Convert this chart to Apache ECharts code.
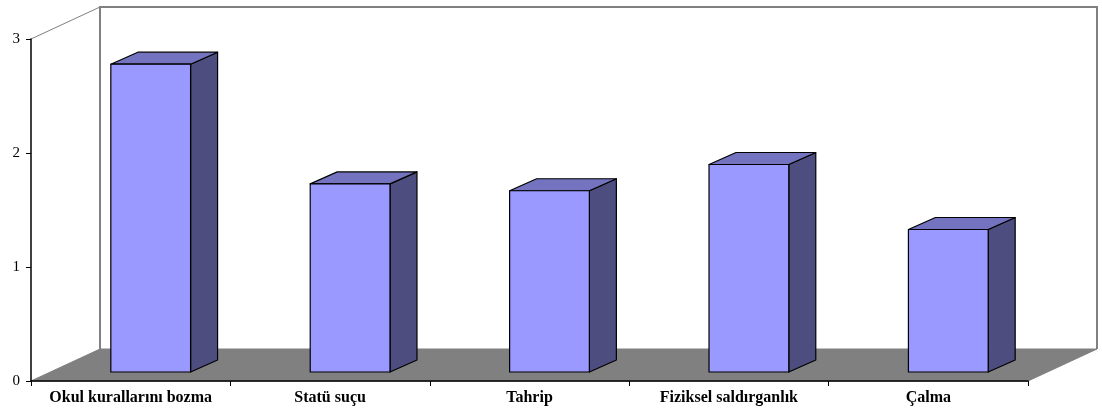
<!DOCTYPE html>
<html>
<head>
<meta charset="utf-8">
<script src="https://cdn.jsdelivr.net/npm/echarts@6/dist/echarts.min.js"></script>
<style>
html,body{margin:0;padding:0;background:#fff;}
#chart{width:1102px;height:409px;}
</style>
</head>
<body>
<div id="chart"></div>
<script>
const categories = ['Okul kurallarını bozma', 'Statü suçu', 'Tahrip', 'Fiziksel saldırganlık', 'Çalma'];
const values = [2.70, 1.65, 1.59, 1.82, 1.25];
const yMin = 0, yMax = 3, yStep = 1;

const FONT = "'Liberation Serif', 'Times New Roman', serif";
const DEPTH_X = 69, DEPTH_Y = -32;   // wall/floor depth
const SHIFT_X = 20, SHIFT_Y = -9;    // bar position inside depth
const BAR_DX = 27, BAR_DY = -12;     // bar depth

function renderWalls(params, api) {
  const cs = params.coordSys;
  const x = cs.x, y = cs.y, w = cs.width, h = cs.height;
  const gray = '#808080';
  return {
    type: 'group',
    children: [
      { type: 'polygon', shape: { points: [[x, y + h], [x + w, y + h], [x + w + DEPTH_X, y + h + DEPTH_Y], [x + DEPTH_X, y + h + DEPTH_Y]] },
        style: { fill: gray, stroke: gray, lineWidth: 1 } },
      { type: 'polyline', shape: { points: [[x + DEPTH_X, y + h + DEPTH_Y], [x + DEPTH_X, y + DEPTH_Y], [x + w + DEPTH_X, y + DEPTH_Y], [x + w + DEPTH_X, y + h + DEPTH_Y]] },
        style: { fill: null, stroke: gray, lineWidth: 2 } },
      { type: 'line', shape: { x1: x, y1: y, x2: x + DEPTH_X, y2: y + DEPTH_Y },
        style: { stroke: gray, lineWidth: 1 } }
    ]
  };
}

function renderBar(params, api) {
  const idx = api.value(0), v = api.value(1);
  const top = api.coord([idx, v]);
  const base = api.coord([idx, 0]);
  const band = api.size([1, 0])[0];
  const w = band * 0.4;
  const x0 = top[0] - w / 2 + SHIFT_X, x1 = x0 + w;
  const yT = top[1] + SHIFT_Y, yB = base[1] + SHIFT_Y;
  const st = { stroke: '#000', lineWidth: 1.2, lineJoin: 'round' };
  return {
    type: 'group',
    children: [
      { type: 'polygon', shape: { points: [[x1, yT], [x1 + BAR_DX, yT + BAR_DY], [x1 + BAR_DX, yB + BAR_DY], [x1, yB]] },
        style: Object.assign({ fill: '#4D4D80' }, st) },
      { type: 'polygon', shape: { points: [[x0, yT], [x0 + BAR_DX, yT + BAR_DY], [x1 + BAR_DX, yT + BAR_DY], [x1, yT]] },
        style: Object.assign({ fill: '#7373BF' }, st) },
      { type: 'rect', shape: { x: x0, y: yT, width: w, height: yB - yT },
        style: Object.assign({ fill: '#9999FF' }, st) }
    ]
  };
}

const chart = echarts.init(document.getElementById('chart'), null, { renderer: 'canvas' });
chart.setOption({
  animation: false,
  backgroundColor: '#fff',
  grid: { left: 31, right: 74, top: 39, bottom: 28, containLabel: false },
  xAxis: {
    type: 'category',
    data: categories,
    z: 10,
    axisLine: { show: true, lineStyle: { color: '#000', width: 1.5 } },
    axisTick: { show: true, length: 5, lineStyle: { color: '#000', width: 1 } },
    axisLabel: { color: '#000', fontFamily: FONT, fontSize: 16, fontWeight: 'bold', margin: 9, interval: 0 },
    splitLine: { show: false }
  },
  yAxis: {
    type: 'value',
    min: yMin, max: yMax, interval: yStep,
    z: 10,
    axisLine: { show: true, lineStyle: { color: '#000', width: 1.5 } },
    axisTick: { show: true, inside: false, length: 5, lineStyle: { color: '#000', width: 1 } },
    axisLabel: { color: '#000', fontFamily: FONT, fontSize: 15, margin: 11 },
    splitLine: { show: false }
  },
  series: [
    { type: 'custom', name: 'walls', silent: true, z: 1, renderItem: renderWalls, data: [[0, 0]] },
    { type: 'custom', name: 'bars', z: 5, renderItem: renderBar,
      encode: { x: 0, y: 1 },
      data: values.map((v, i) => [i, v]) }
  ]
});
</script>
</body>
</html>
